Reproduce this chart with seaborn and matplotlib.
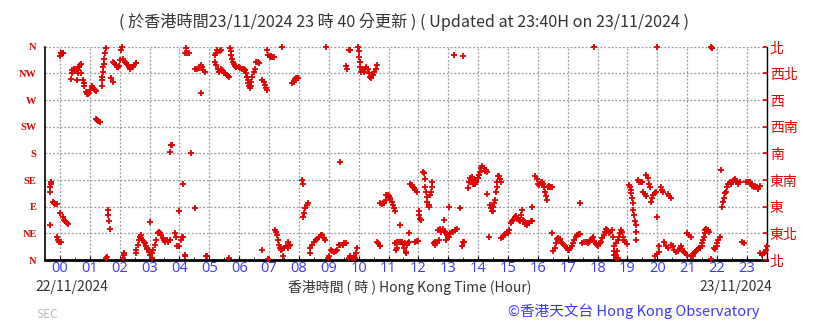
import matplotlib
matplotlib.use("Agg")
import matplotlib.pyplot as plt
import seaborn as sns
import pandas as pd
import numpy as np

# ---- data: hour (HKT, relative to 23/11 00:00) and wind direction (deg) ----
t_a = [-0.31, -0.29, -0.33, -0.33, -0.33, -0.24, -0.2, -0.16, -0.11, 0, 0.09, 0.13, 0.18, 0.22, 0.27,
       -0.11, -0.07, -0.02, 0.02, 0, 0.02, 0.04, 0.09, 0.11, 0.36, 0.4, 0.42, 0.47, 0.51, 0.56,
       0.58, 0.6, 0.62, 0.64, 0.67, 0.69, 0.71, 0.76, 0.8, 0.82, 0.87, 0.89, 0.93, 0.98, 1.02, 1.07,
       1.11, 1.16, 1.2, 1.2, 1.24, 1.29, 1.33, 1.4, 1.42, 1.42, 1.44, 1.44, 1.47, 1.49, 1.51, 1.53,
       1.53, 1.58, 1.6, 1.61, 1.63, 1.66, 1.71, 1.76, 1.78, 1.82, 1.87, 1.91, 1.96, 1.98, 2.02, 2.04,
       2.09, 2.11, 2.18, 2.22, 2.27, 2.31, 2.36, 2.4, 2.44, 2.49, 2.53, 2.56, 2.11, 2.13, 2.16,
       2.53, 2.56, 2.6, 2.64, 2.69, 2.71, 2.73, 2.76, 2.8, 2.84, 2.87, 2.91, 2.93, 2.98, 3.02, 3.07,
       3.0, 3.09, 3.13, 3.18, 3.22, 3.27, 3.31, 3.36, 3.4, 3.44, 3.49, 3.53, 3.58, 3.62, 3.67,
       3.69, 3.71, 3.76, 3.84, 3.89, 3.93, 3.98, 3.98, 4.09, 4.13, 4.06, 4.11, 4.2, 4.22, 4.27, 4.31,
       4.17, 4.19, 4.4, 4.51, 4.53]
d_a = [132, 128, 124, 115, 59, 98, 97, 95, 94, 79, 73, 68, 65, 63, 61,
       38, 34, 31, 30, 344, 350, 350, 350, 350, 305, 315, 321, 323, 323, 323,
       304, 315, 320, 326, 329, 331, 315, 304, 298, 293, 284, 280, 281, 282, 287, 293,
       290, 287, 286, 238, 236, 234, 233, 293, 304, 309, 318, 326, 331, 340, 349, 357,
       3, 5, 84, 76, 65, 53, 308, 301, 335, 332, 329, 326, 325, 327, 338, 354,
       360, 340, 335, 332, 329, 326, 323, 325, 326, 329, 332, 333, 3, 8, 11,
       11, 17, 25, 34, 39, 43, 37, 34, 31, 28, 23, 20, 18, 14, 8, 3,
       64, 11, 17, 25, 34, 45, 48, 46, 42, 37, 34, 31, 34, 31, 34,
       182, 194, 194, 45, 39, 23, 23, 82, 39, 39, 34, 128, 349, 357, 349, 349,
       6, 8, 180, 88, 322]

t_b = [4.58, 4.64, 4.71, 4.76, 4.8, 4.87, 4.71, 4.89, 4.93, 5.18, 5.22, 5.27, 5.4, 5.37,
       5.2, 5.24, 5.29, 5.33, 5.4, 5.44, 5.49, 5.53, 5.58, 5.62, 5.67, 5.67,
       5.69, 5.71, 5.73, 5.76, 5.78, 5.82, 5.87, 5.91, 5.98, 6.04, 6.11, 6.16, 6.2, 6.24, 6.27,
       6.29, 6.31, 6.33, 6.36, 6.38, 6.4, 6.44, 6.49, 6.53, 6.58, 6.62, 6.67, 6.76,
       6.78, 6.82, 6.87, 6.91, 6.93, 6.93, 6.98, 7.02, 7.07, 7.11, 7.18, 6.98, 7.44,
       7.2, 7.22, 7.27, 7.31, 7.33, 7.36, 7.4, 7.44, 7.51, 7.56, 7.62, 7.67, 7.71, 7.64, 7.47,
       7.76, 7.82, 7.87, 7.89, 7.93, 7.98, 8.09, 8.13, 8.13, 8.18, 8.22, 8.27, 8.31,
       8.36, 8.38, 8.44, 8.51, 8.56, 8.6, 8.67, 8.73, 8.78, 8.84, 8.89, 8.91,
       8.96, 9.0, 9.07, 9.11, 9.18, 9.24, 9.29]
d_b = [322, 324, 329, 326, 320, 318, 282, 6, 7, 346, 349, 354, 354, 352,
       335, 329, 322, 318, 322, 320, 316, 315, 312, 311, 309, 3,
       357, 352, 346, 340, 335, 331, 327, 326, 325, 324, 323, 322, 320, 315, 309,
       304, 298, 293, 290, 293, 301, 309, 318, 322, 335, 335, 333, 17,
       304, 301, 295, 290, 287, 354, 346, 343, 344, 342, 343, 1, 359,
       51, 48, 42, 34, 25, 20, 17, 18, 20, 23, 20, 23, 25, 31, 6,
       298, 301, 305, 308, 308, 308, 135, 128, 73, 80, 87, 93, 97,
       11, 20, 25, 31, 34, 35, 38, 42, 43, 37, 33, 360,
       3, 7, 17, 16, 14, 16, 17]

t_c = [9.34, 9.39, 9.46, 9.52, 9.57, 9.37, 9.59, 9.61, 9.68, 9.72,
       9.67, 9.72, 9.78, 9.83, 9.89, 9.92, 9.94,
       9.97, 10.0, 10.01, 10.03, 10.06, 10.08, 10.12, 10.17, 10.21, 10.26, 10.3, 10.34, 10.39,
       10.43, 10.48, 10.52, 10.57, 10.61, 10.61, 10.66, 10.7, 10.72,
       10.72, 10.77, 10.81, 10.86, 10.9, 10.92, 10.97, 11.01, 11.06, 11.1, 11.14, 11.19, 11.21,
       11.23, 11.28, 11.34, 11.41, 11.46, 11.5, 11.56, 11.61, 11.66, 11.68,
       11.26, 11.3, 11.52, 11.57, 11.59, 11.37, 11.7,
       11.72, 11.77, 11.81, 11.86, 11.9, 11.94, 11.88, 11.94, 11.99,
       12.01, 12.03, 12.06, 12.1, 12.17, 12.19, 12.21, 12.23, 12.26, 12.28, 12.3, 12.34, 12.37,
       12.39, 12.43, 12.46, 12.46, 12.52, 12.57, 12.61, 12.54, 12.68,
       12.66, 12.72, 12.77, 12.83, 12.88, 12.92, 12.97, 13.01, 13.06, 13.12, 13.17, 13.23, 13.3,
       12.86, 12.94, 12.99, 13.03, 13.39, 13.19, 13.5, 13.46, 13.5, 13.54,
       13.66, 13.7, 13.74, 13.81, 13.86, 13.9, 13.94, 13.99, 14.03]
d_c = [25, 25, 25, 28, 29, 166, 327, 322, 354, 354,
       3, 6, 3, 6, 3, 11, 20,
       360, 352, 343, 335, 326, 318, 321, 318, 323, 325, 322, 315, 309,
       308, 312, 318, 323, 329, 31, 28, 23, 24,
       96, 95, 96, 96, 101, 110, 110, 108, 104, 98, 93, 87, 83,
       28, 31, 31, 31, 31, 27, 28, 25, 28, 31,
       17, 20, 20, 14, 11, 59, 45,
       129, 127, 124, 121, 118, 115, 31, 32, 32,
       82, 76, 70, 68, 149, 146, 136, 124, 115, 107, 98, 93, 90,
       110, 115, 124, 132, 28, 25, 28, 31, 34,
       51, 53, 48, 52, 48, 46, 42, 39, 45, 48, 47, 50, 52,
       67, 34, 39, 90, 88, 346, 344, 24, 31, 31,
       121, 132, 138, 140, 135, 129, 132, 138, 143]

t_d = [13.8, 13.84, 13.89, 13.93, 13.98, 14.02, 14.07, 14.11, 14.13, 14.18, 14.22, 14.27, 14.31,
       14.31, 14.36, 14.4, 14.44, 14.47, 14.49, 14.51, 14.53, 14.56,
       14.6, 14.62, 14.64, 14.67, 14.69, 14.73, 14.76,
       14.78, 14.82, 14.87, 14.91, 14.96, 15.0, 15.04,
       15.09, 15.13, 15.18, 15.22, 15.27, 15.31, 15.36, 15.4, 15.44, 15.47, 15.49, 15.53, 15.58,
       15.62, 15.67, 15.71, 15.76, 15.8, 15.8,
       15.91, 15.96, 16.0, 16.04, 16.09, 16.13, 16.18, 16.22, 16.24, 16.27, 16.29, 16.33, 16.38,
       16.42, 16.47, 16.47,
       16.51, 16.56, 16.6, 16.64, 16.69, 16.73, 16.78, 16.82, 16.87, 16.91, 16.96, 17.0, 17.04,
       17.09, 17.13, 17.18, 17.22, 17.27, 17.31, 17.36, 17.4, 17.42,
       17.47, 17.53, 17.6, 17.67, 17.71, 17.76, 17.8, 17.84, 17.89, 17.93, 17.98, 18.02, 18.07,
       18.11, 18.16, 18.2, 18.24, 18.29, 18.33, 18.38, 18.42, 18.47, 18.51, 17.87,
       18.56, 18.56, 18.64, 18.6, 18.62]
d_d = [135, 129, 128, 132, 138, 143, 149, 155, 159, 155, 151, 152, 149,
       111, 39, 93, 87, 82, 83, 90, 96, 101,
       115, 124, 132, 141, 142, 136, 132,
       37, 39, 42, 44, 45, 46, 51,
       62, 65, 68, 73, 74, 70, 68, 66, 76, 84, 68, 65, 61,
       59, 62, 63, 65, 65, 90,
       142, 136, 129, 127, 131, 132, 129, 124, 115, 108, 102, 124, 125,
       124, 124, 45,
       16, 21, 29, 35, 37, 35, 31, 28, 25, 23, 20, 17, 17,
       20, 23, 28, 34, 39, 42, 44, 44, 96,
       29, 30, 31, 29, 31, 33, 35, 38, 31, 28, 25, 24, 28,
       31, 37, 42, 48, 53, 51, 45, 48, 51, 39, 360,
       16, 8, 16, 8, 3]

t_e = [18.56, 18.62, 18.67, 18.71, 18.76, 18.78, 18.8, 18.84, 18.89, 18.93, 18.98, 18.67,
       19.04, 19.09, 19.11, 19.13, 19.16, 19.18, 19.2, 19.22, 19.24, 19.27, 19.29, 19.29,
       19.36, 19.4, 19.44, 19.49, 19.53, 19.58, 19.62, 19.62, 19.67, 19.71, 19.76, 19.8, 19.82,
       19.87, 19.91, 19.96, 20.0, 20.07, 20.11, 20.16, 20.2, 20.36, 20.4, 20.44,
       19.93, 19.98, 20.04, 19.98,
       20.22, 20.29, 20.36, 20.47, 20.51, 20.56, 20.62, 20.69, 20.76, 20.8, 20.84, 20.89, 20.93, 20.98,
       21.0, 21.07, 21.13,
       21.13, 21.18, 21.22, 21.27, 21.31, 21.36, 21.4, 21.44, 21.49, 21.51, 21.53, 21.56, 21.58,
       21.6, 21.64, 21.69, 21.73, 21.78, 21.82, 21.84, 21.8,
       21.89, 21.93, 21.98, 22.0, 22.04, 22.09, 22.13,
       22.16, 22.2, 22.22, 22.27, 22.31, 22.33, 22.38, 22.42, 22.47, 22.51, 22.56, 22.6, 22.64,
       22.71, 22.76, 22.82, 22.89,
       22.98, 23.04, 23.09, 23.13, 23.18, 23.22, 23.27, 23.33, 23.38, 23.42,
       23.44, 23.51, 23.56, 23.6, 23.64, 23.66]
d_e = [23, 28, 34, 39, 46, 50, 48, 39, 34, 31, 27, 3,
       127, 124, 118, 113, 104, 96, 84, 76, 65, 59, 48, 34,
       135, 132, 132, 132, 115, 111, 108, 143, 138, 128, 124, 98, 104,
       110, 113, 114, 73, 23, 123, 118, 115, 111, 108, 104,
       6, 10, 14, 359,
       31, 23, 20, 25, 23, 17, 14, 16, 20, 23, 18, 14, 11, 8,
       45, 42, 39,
       6, 7, 11, 14, 17, 18, 20, 20, 23, 28, 34, 39, 45,
       51, 53, 51, 48, 359, 358, 358, 1,
       20, 18, 23, 28, 34, 39, 152,
       90, 98, 104, 113, 115, 124, 129, 131, 128, 132, 135, 136, 134,
       129, 132, 31, 28,
       132, 132, 131, 128, 125, 124, 125, 124, 119, 125,
       11, 8, 11, 14, 17, 23]

hour_labels = [f"{h:02d}" for h in range(24)]
dir_labels_en = ["N", "NE", "E", "SE", "S", "SW", "W", "NW", "N"]
dir_labels_zh = ["北", "東北", "東", "東南", "南", "西南", "西", "西北", "北"]

df = pd.DataFrame({
    "hour": t_a + t_b + t_c + t_d + t_e,
    "dir": d_a + d_b + d_c + d_d + d_e,
})

sns.set_theme(style="white")
plt.rcParams["font.family"] = ["Noto Sans CJK TC", "DejaVu Sans"]

W, H = 819, 323
fig = plt.figure(figsize=(W / 100, H / 100), dpi=100)
ax = fig.add_axes([45 / W, 1 - 260 / H, (767 - 45) / W, (260 - 46.7) / H])

RED = "#e00000"
sns.scatterplot(data=df, x="hour", y="dir", ax=ax, marker="+", s=14, color=RED,
                linewidth=1.3, legend=False, zorder=3, clip_on=False)

ax.set_xlim(-0.343, 23.67)
ax.set_ylim(0, 360)
ax.set_xticks(range(24))
ax.set_xticklabels(hour_labels, color="#3a3af5", fontsize=10.5, family=["Open Sans"])
ax.set_xticks(np.arange(-0.5, 23.6, 0.5), minor=True)
ax.set_yticks(range(0, 361, 45))
ax.set_yticklabels(dir_labels_en, color=RED, fontsize=7.5, family=["Liberation Serif"],
                   fontweight="bold")
ax.tick_params(axis="x", which="major", direction="in", length=3, width=0.8, color="black",
               pad=1, bottom=True)
ax.tick_params(axis="x", which="minor", direction="in", length=2, width=0.6, color="black",
               bottom=True)
ax.tick_params(axis="y", direction="in", length=0, pad=6, left=True)
ax.set_xlabel("")
ax.set_ylabel("")

ax.grid(True, which="major", color="#9a9a9a", linestyle=(0, (1.5, 1.5)), linewidth=0.9)
ax.set_axisbelow(True)
ax.spines["top"].set_visible(False)
ax.spines["left"].set_color("black")
ax.spines["left"].set_linewidth(1.2)
ax.spines["bottom"].set_color("black")
ax.spines["bottom"].set_linewidth(2.0)
ax.spines["right"].set_color("black")
ax.spines["right"].set_linewidth(1.0)

ax2 = ax.twinx()
ax2.set_ylim(0, 360)
ax2.set_yticks(range(0, 361, 45))
ax2.set_yticklabels(dir_labels_zh, color=RED, fontsize=10, family=["Noto Sans CJK TC"])
ax2.tick_params(axis="y", direction="in", length=3, color=RED, pad=2)
for s in ["top", "left", "bottom", "right"]:
    ax2.spines[s].set_visible(False)
ax2.grid(False)

TXT = "#333333"
fig.text(404 / W, 1 - 22 / H,
         "( 於香港時間23/11/2024 23 時 40 分更新 ) ( Updated at 23:40H on 23/11/2024 )",
         ha="center", va="center", fontsize=11.6, color=TXT)
fig.text(35 / W, 1 - 287 / H, "22/11/2024", ha="left", va="center", fontsize=10, color=TXT)
fig.text(410 / W, 1 - 287 / H, "香港時間 ( 時 ) Hong Kong Time (Hour)", ha="center",
         va="center", fontsize=10, color=TXT)
fig.text(772 / W, 1 - 287 / H, "23/11/2024", ha="right", va="center", fontsize=10, color=TXT)
fig.text(760 / W, 1 - 311 / H, "©香港天文台 Hong Kong Observatory", ha="right", va="center",
         fontsize=10.5, color="#3a3af5")
fig.text(36 / W, 1 - 315 / H, "SEC", ha="left", va="center", fontsize=8.5, color="#bbbbbb")

fig.savefig("out.png", dpi=100)
